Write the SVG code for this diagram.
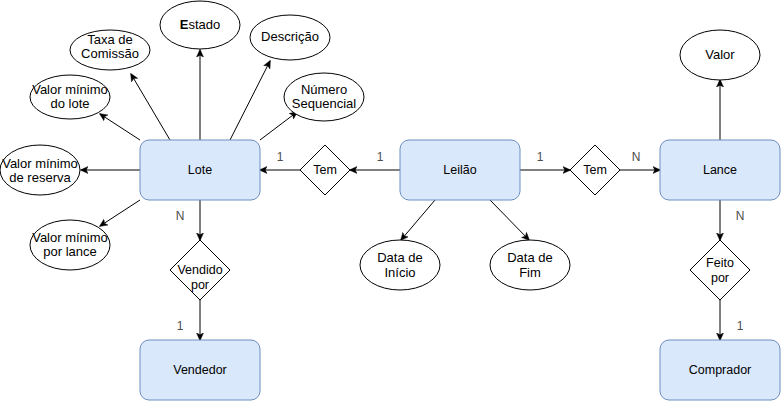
<svg xmlns="http://www.w3.org/2000/svg" width="781" height="401" viewBox="0 0 781 401">
<defs>
<marker id="ah" viewBox="0 0 10 10" refX="9" refY="5" markerWidth="8" markerHeight="8" orient="auto" markerUnits="userSpaceOnUse">
<path d="M0,0.5 L10,5 L0,9.5 L2.5,5 Z" fill="#000" stroke="#000" stroke-width="0.5"/>
</marker>
<style>
.ent{fill:#dae8fc;stroke:#6c8ebf;stroke-width:1}
.att{fill:#fff;stroke:#000;stroke-width:1}
.rel{fill:#fff;stroke:#000;stroke-width:1}
text{font-family:"Liberation Sans",Arial,Helvetica,sans-serif;font-size:12.5px;fill:#000;text-anchor:middle}
.at{font-size:13px}
.card{fill:#4d4d4d;font-size:12px}
.e{stroke:#000;stroke-width:1;fill:none;marker-end:url(#ah)}
</style>
</defs>
<rect width="781" height="401" fill="#fff"/>
<g id="connectors">
<line class="e" x1="200" y1="140" x2="200" y2="50"/>
<line class="e" x1="170" y1="140" x2="131" y2="74"/>
<line class="e" x1="230" y1="140" x2="270" y2="61"/>
<line class="e" x1="260" y1="140" x2="297" y2="112"/>
<line class="e" x1="140" y1="140" x2="100" y2="114"/>
<line class="e" x1="140" y1="170" x2="81" y2="170"/>
<line class="e" x1="140" y1="200" x2="100" y2="226"/>
<line class="e" x1="200" y1="200" x2="200" y2="240"/>
<line class="e" x1="200" y1="300" x2="200" y2="340"/>
<line class="e" x1="400" y1="170" x2="350" y2="170"/>
<line class="e" x1="300" y1="170" x2="260" y2="170"/>
<line class="e" x1="520" y1="170" x2="570" y2="170"/>
<line class="e" x1="620" y1="170" x2="660" y2="170"/>
<line class="e" x1="720" y1="140" x2="720" y2="80"/>
<line class="e" x1="720" y1="200" x2="720" y2="240"/>
<line class="e" x1="720" y1="300" x2="720" y2="340"/>
<line class="e" x1="435" y1="200" x2="401" y2="240"/>
<line class="e" x1="490" y1="200" x2="529" y2="240"/>
<text class="card" x="280" y="161">1</text>
<text class="card" x="380" y="161">1</text>
<text class="card" x="540" y="161">1</text>
<text class="card" x="636" y="161">N</text>
<text class="card" x="180" y="220">N</text>
<text class="card" x="180" y="330">1</text>
<text class="card" x="740" y="220">N</text>
<text class="card" x="740" y="330">1</text>
</g>
<g id="lote"><rect class="ent" x="140" y="140" width="120" height="60" rx="9"/><text x="200" y="174">Lote</text></g>
<g id="leilao"><rect class="ent" x="400" y="140" width="120" height="60" rx="9"/><text x="460" y="174">Leilão</text></g>
<g id="lance"><rect class="ent" x="660" y="140" width="120" height="60" rx="9"/><text x="720" y="174">Lance</text></g>
<g id="vendedor"><rect class="ent" x="140" y="340" width="120" height="60" rx="9"/><text x="200" y="374">Vendedor</text></g>
<g id="comprador"><rect class="ent" x="660" y="340" width="120" height="60" rx="9"/><text x="720" y="374">Comprador</text></g>
<g id="tem1"><polygon class="rel" points="325,145 350,170 325,195 300,170"/><text x="325" y="174">Tem</text></g>
<g id="tem2"><polygon class="rel" points="595,145 620,170 595,195 570,170"/><text x="595" y="174">Tem</text></g>
<g id="vendido-por"><polygon class="rel" points="200,240 230,270 200,300 170,270"/><text><tspan x="200" y="274">Vendido</tspan><tspan x="200" y="289">por</tspan></text></g>
<g id="feito-por"><polygon class="rel" points="720,240 750,270 720,300 690,270"/><text><tspan x="720" y="267">Feito</tspan><tspan x="720" y="282">por</tspan></text></g>
<g id="estado"><ellipse class="att" cx="200" cy="25" rx="40" ry="24"/><text class="at" x="200" y="29"><tspan font-weight="bold">E</tspan>stado</text></g>
<g id="taxa"><ellipse class="att" cx="110" cy="50" rx="40" ry="20"/><text class="at"><tspan x="110" y="44">Taxa de</tspan><tspan x="110" y="58">Comissão</tspan></text></g>
<g id="descricao"><ellipse class="att" cx="290" cy="37.5" rx="40" ry="22.5"/><text class="at" x="290" y="41">Descrição</text></g>
<g id="numero"><ellipse class="att" cx="324" cy="97" rx="40" ry="24"/><text class="at"><tspan x="324" y="94">Número</tspan><tspan x="324" y="108">Sequencial</tspan></text></g>
<g id="vmin-lote"><ellipse class="att" cx="70" cy="97" rx="40" ry="22"/><text class="at"><tspan x="70" y="94">Valor mínimo</tspan><tspan x="70" y="108">do lote</tspan></text></g>
<g id="vmin-reserva"><ellipse class="att" cx="40" cy="170" rx="40" ry="25"/><text class="at"><tspan x="40" y="168">Valor mínimo</tspan><tspan x="40" y="182">de reserva</tspan></text></g>
<g id="vmin-lance"><ellipse class="att" cx="70" cy="245" rx="40" ry="25"/><text class="at"><tspan x="70" y="242">Valor mínimo</tspan><tspan x="70" y="256">por lance</tspan></text></g>
<g id="data-inicio"><ellipse class="att" cx="400" cy="265" rx="40" ry="25"/><text class="at"><tspan x="400" y="262">Data de</tspan><tspan x="400" y="277">Início</tspan></text></g>
<g id="data-fim"><ellipse class="att" cx="530" cy="265" rx="40" ry="25"/><text class="at"><tspan x="530" y="262">Data de</tspan><tspan x="530" y="277">Fim</tspan></text></g>
<g id="valor"><ellipse class="att" cx="720" cy="55" rx="40" ry="25"/><text class="at" x="720" y="59">Valor</text></g>
</svg>
